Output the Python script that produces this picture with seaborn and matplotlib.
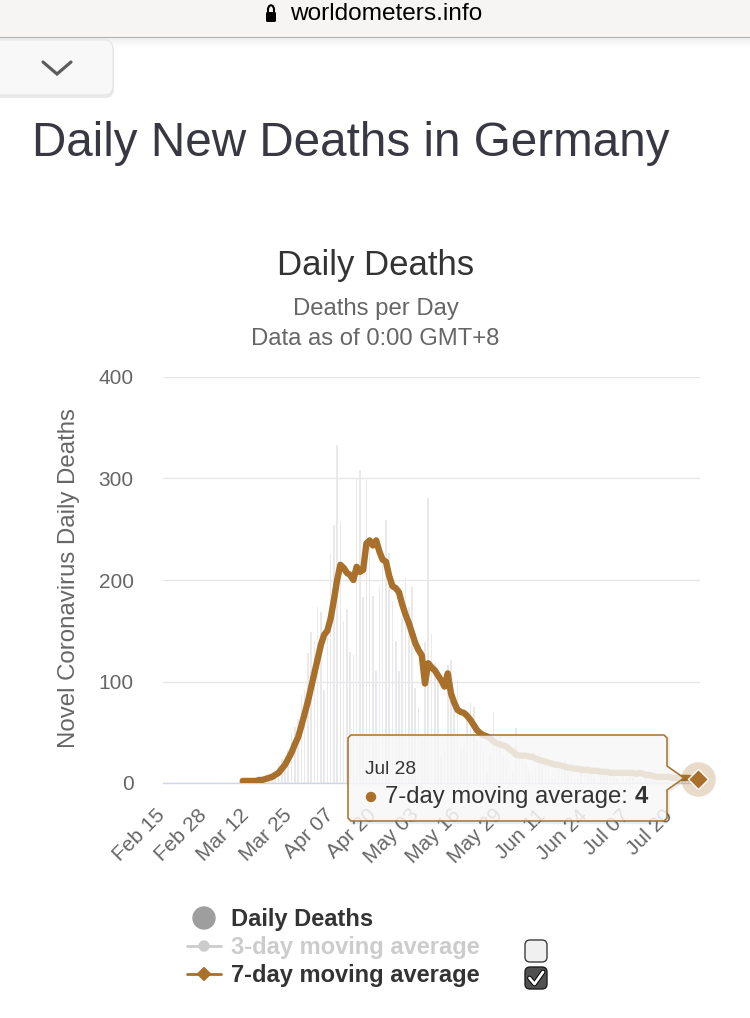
import numpy as np
import pandas as pd
import seaborn as sns
import matplotlib.pyplot as plt
import matplotlib.transforms as mtransforms
from matplotlib.patches import Polygon, Circle, FancyBboxPatch, Rectangle
from matplotlib.lines import Line2D

# ---- data ----
first_day = "2020-02-15"
last_day = "2020-07-28"

# daily deaths, Feb 15 .. Jul 28
daily_deaths = [
    0, 0, 0, 0, 0, 0, 0, 0, 0, 0, 0, 0, 0, 0, 0, 0, 0, 0, 0, 0, 0, 0, 0,
    2, 0, 1, 0, 3, 2, 4, 1, 6, 4,
    8, 11, 20, 24, 24, 33, 49, 55, 63, 87,
    92, 128, 149, 140, 173, 168, 92, 150, 226, 254,
    333, 257, 160, 171, 129, 126, 300, 308, 183, 298,
    242, 184, 110, 194, 215, 259, 227, 179, 140, 110,
    163, 202, 173, 193, 94, 74, 43, 139, 281, 147,
    118, 112, 26, 33, 116, 121, 89, 101, 34, 36,
    63, 79, 75, 42, 40, 31, 12, 29, 70, 43,
    47, 27, 35, 10, 11, 54, 26, 33, 20, 10,
    9, 14, 30, 26, 22, 21, 5, 4, 20, 16,
    24, 10, 12, 3, 5, 16, 14, 11, 15, 6,
    0, 13, 11, 12, 8, 12, 4, 1, 13, 5,
    11, 9, 7, 4, 1, 10, 7, 6, 2, 8,
    1, 1, 10, 8, 3, 5, 3, 4, 3, 4,
    3, 4,
]

# 7-day moving average, Mar 10 .. Jul 28
ma7_start = "2020-03-10"
ma7 = [
    2, 2, 2, 2, 2, 3, 3, 4, 5, 6,
    8, 10, 14, 18, 24, 30, 38, 45, 56, 68,
    80, 94, 108, 122, 136, 146, 150, 162, 180, 200,
    215, 212, 207, 205, 200, 213, 208, 210, 236, 239,
    234, 239, 228, 220, 218, 204, 194, 192, 188, 176,
    166, 158, 148, 138, 131, 126, 98, 118, 114, 111,
    106, 101, 95, 108, 88, 79, 72, 70, 69, 66,
    62, 57, 52, 49, 47, 46, 44, 41, 39, 38,
    37, 36, 33, 31, 28, 27, 27, 27, 26, 26,
    24, 23, 22, 21, 20, 19, 18, 18, 17, 16,
    15, 15, 14, 14, 13, 13, 13, 12, 12, 12,
    11, 11, 11, 10, 10, 10, 10, 10, 10, 10,
    10, 9, 10, 9, 8, 8, 7, 6, 6, 6,
    6, 6, 5, 5, 5, 5, 5, 5, 4, 4,
    4,
]

y_ticks = [0, 100, 200, 300, 400]
tick_step = 13
series_names = ["Daily Deaths", "3-day moving average", "7-day moving average"]

BROWN = "#a8702a"
GREY_TXT = "#666666"
DARK_TXT = "#333333"

sns.set_style("white")
plt.rcParams["font.family"] = ["Liberation Sans", "DejaVu Sans"]

W, H = 750, 1018
fig = plt.figure(figsize=(W / 100, H / 100), dpi=100)
fig.patch.set_facecolor("white")
# pixel coords, origin top-left
px = mtransforms.Affine2D().scale(1 / W, -1 / H).translate(0, 1) + fig.transFigure

dates = pd.date_range(first_day, last_day, freq="D")
df = pd.DataFrame({"date": dates, "idx": np.arange(len(dates)), "deaths": daily_deaths})
df_ma = pd.DataFrame({"date": pd.date_range(ma7_start, periods=len(ma7), freq="D"), "ma7": ma7})
df_ma = df_ma.merge(df[["date", "idx"]], on="date")

# ---- chart ----
ax = fig.add_axes([163 / W, 1 - 783 / H, (700 - 163) / W, (783 - 377) / H])
sns.barplot(data=df, x="idx", y="deaths", native_scale=True, color="#e9e9ec",
            saturation=1, width=0.5, errorbar=None, linewidth=0, ax=ax, zorder=1)
sns.lineplot(data=df_ma, x="idx", y="ma7", color=BROWN, lw=4.6, ax=ax, zorder=3,
             solid_joinstyle="round", solid_capstyle="round")

# hover point on the last value of the 7-day average
last = df_ma.iloc[[-1]]
sns.scatterplot(data=last, x="idx", y="ma7", s=620, color=BROWN, alpha=0.25,
                linewidth=0, ax=ax, zorder=8, clip_on=False, legend=False)
sns.scatterplot(data=last, x="idx", y="ma7", marker="D", s=105, color=BROWN,
                edgecolor="white", linewidth=1, ax=ax, zorder=9, clip_on=False, legend=False)

ax.set_xlim(-0.5, len(dates) - 0.5)
ax.set_ylim(0, 400)
ax.set_yticks(y_ticks)
ax.grid(axis="y", color="#e6e6e6", lw=1)
ax.grid(axis="x", visible=False)
ax.set_axisbelow(True)
for s in ["left", "top", "right"]:
    ax.spines[s].set_visible(False)
ax.spines["bottom"].set_color("#ccd6eb")
ax.spines["bottom"].set_linewidth(1)

tick_pos = df["idx"].iloc[::tick_step]
ax.set_xticks(tick_pos)
ax.set_xticklabels(df["date"].iloc[::tick_step].dt.strftime("%b %d"))
ax.tick_params(axis="both", length=0, labelcolor=GREY_TXT, labelsize=15)
ax.tick_params(axis="y", pad=21)
ax.tick_params(axis="x", pad=21)
shift = mtransforms.ScaledTranslation(-3 / 100, 0, fig.dpi_scale_trans)
for lab in ax.get_xticklabels():
    lab.set_rotation(45)
    lab.set_ha("right")
    lab.set_va("center")
    lab.set_rotation_mode("anchor")
    lab.set_transform(lab.get_transform() + shift)

ax.set_xlabel("")
ax.set_ylabel("Novel Coronavirus Daily Deaths", fontsize=17.3, color=GREY_TXT)
ax.yaxis.set_label_coords((80 - 163) / 537, (783 - 578) / 406)

# tooltip
tip = [(351, 735), (664, 735), (667, 738), (667, 766), (684, 778), (667, 790),
       (667, 818), (664, 821), (351, 821), (348, 818), (348, 738)]
ax.add_patch(Polygon([(x + 1, y + 1.5) for x, y in tip], closed=True, transform=px,
                     facecolor="none", edgecolor=(0, 0, 0, 0.07), lw=2.5, clip_on=False, zorder=5))
ax.add_patch(Polygon(tip, closed=True, transform=px, facecolor=(0.969, 0.969, 0.969, 0.85),
                     edgecolor=BROWN, lw=1.1, clip_on=False, zorder=6))
last_date = last["date"].iloc[0]
last_val = int(last["ma7"].iloc[0])
ax.text(365, 774, last_date.strftime("%b %d").replace(" 0", " "), transform=px, fontsize=13.8,
        color=DARK_TXT, ha="left", va="baseline", zorder=7, clip_on=False)
ax.add_patch(Circle((371, 797), 4.5, transform=px, color=BROWN, clip_on=False, zorder=7))
ax.text(385, 803, "7-day moving average: ", transform=px, fontsize=17.2, color=DARK_TXT,
        ha="left", va="baseline", zorder=7, clip_on=False)
ax.text(648, 803, str(last_val), transform=px, fontsize=17.2, color=DARK_TXT, fontweight="bold",
        ha="right", va="baseline", zorder=7, clip_on=False)

# ---- page chrome ----
fig.add_artist(Rectangle((0, 0), W, 37, transform=px, facecolor="#f6f5f4", edgecolor="none"))
for i, a in enumerate([0.06, 0.045, 0.03, 0.018, 0.008]):
    fig.add_artist(Rectangle((0, 38 + 2 * i), W, 2, transform=px, facecolor=(0, 0, 0, a), edgecolor="none"))
fig.add_artist(Line2D([0, W], [37.5, 37.5], transform=px, color="#b2b2b2", lw=0.8))
# lock
fig.add_artist(FancyBboxPatch((266, 12), 10, 10, boxstyle="round,pad=0,rounding_size=1.5",
                              transform=px, facecolor="black", edgecolor="none"))
fig.add_artist(Line2D([268, 268, 269.2, 271, 272.8, 274, 274], [13, 8.5, 6, 5.2, 6, 8.5, 13],
                      transform=px, color="black", lw=1.5))
fig.text(290, 14, "worldometers.info", transform=px, fontsize=17.6, color="black",
         ha="left", va="center")
# collapsed tab
fig.add_artist(FancyBboxPatch((-20, 42), 134, 56, boxstyle="round,pad=0,rounding_size=9",
                              transform=px, facecolor="#e9e9e9", edgecolor="none"))
fig.add_artist(FancyBboxPatch((-20, 40), 133, 55, boxstyle="round,pad=0,rounding_size=9",
                              transform=px, facecolor="#f8f8f8", edgecolor="#e6e6e6", lw=0.8))
fig.add_artist(Line2D([43, 57, 71], [62, 74, 62], transform=px, color="#5c5c5c", lw=2.3,
                      solid_capstyle="round", solid_joinstyle="miter"))

# titles
fig.text(351, 156, "Daily New Deaths in Germany", transform=px, fontsize=34.3,
         color="#383843", ha="center", va="baseline")
fig.text(375.5, 275, "Daily Deaths", transform=px, fontsize=25, color=DARK_TXT,
         ha="center", va="baseline")
fig.text(375.5, 315, "Deaths per Day", transform=px, fontsize=17.2, color=GREY_TXT,
         ha="center", va="baseline")
fig.text(375.5, 345, "Data as of 0:00 GMT+8", transform=px, fontsize=17.2, color=GREY_TXT,
         ha="center", va="baseline")

# legend
leg_y = [918, 946, 974]
leg_colors = [DARK_TXT, "#cccccc", DARK_TXT]
fig.add_artist(Circle((204, leg_y[0]), 11, transform=px, color="#9e9e9e"))
fig.add_artist(Line2D([187, 221], [leg_y[1]] * 2, transform=px, color="#cccccc", lw=2))
fig.add_artist(Circle((204, leg_y[1]), 5, transform=px, color="#cccccc"))
fig.add_artist(Line2D([187, 221], [leg_y[2]] * 2, transform=px, color=BROWN, lw=2))
fig.add_artist(Polygon([(204, leg_y[2] - 6.5), (210.5, leg_y[2]), (204, leg_y[2] + 6.5), (197.5, leg_y[2])],
                       closed=True, transform=px, color=BROWN))
for name, y, c in zip(series_names, leg_y, leg_colors):
    fig.text(231, y + 8.5, name, transform=px, fontsize=17, fontweight="bold", color=c,
             ha="left", va="baseline")
# checkboxes
fig.add_artist(FancyBboxPatch((525, 940), 22, 22, boxstyle="round,pad=0,rounding_size=5",
                              transform=px, facecolor="#f0f0f0", edgecolor="#3c3c3c", lw=1))
fig.add_artist(FancyBboxPatch((525, 967), 22, 22, boxstyle="round,pad=0,rounding_size=5",
                              transform=px, facecolor="#505050", edgecolor="#1e1e1e", lw=1))
fig.add_artist(Line2D([529.5, 534.5, 543], [978, 984, 972], transform=px, color="black", lw=3.4,
                      solid_capstyle="round", solid_joinstyle="round"))
fig.add_artist(Line2D([529.5, 534.5, 543], [978, 984, 972], transform=px, color="white", lw=2,
                      solid_capstyle="round", solid_joinstyle="round"))

fig.savefig("out.png", dpi=100, facecolor="white")
